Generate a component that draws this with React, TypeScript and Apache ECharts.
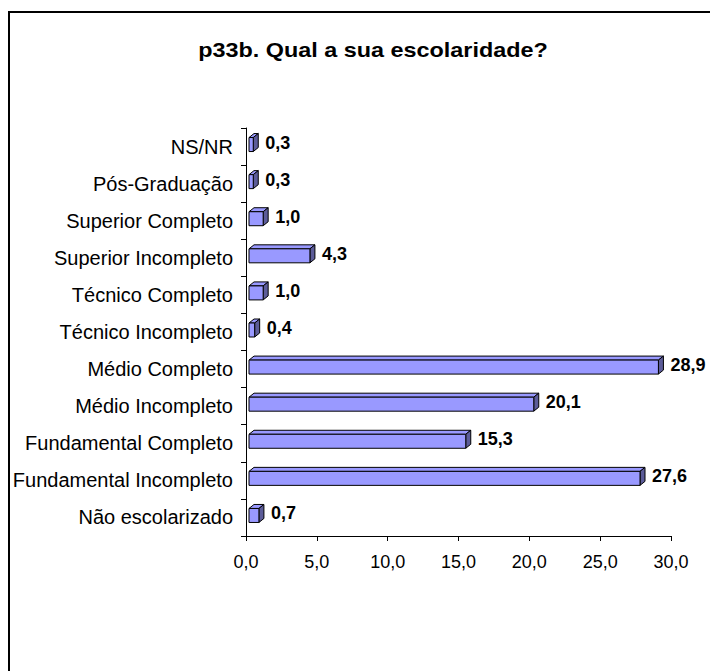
import React, { useEffect, useRef } from "react";
import * as echarts from "echarts";

const categories = [
  "Não escolarizado",
  "Fundamental Incompleto",
  "Fundamental Completo",
  "Médio Incompleto",
  "Médio Completo",
  "Técnico Incompleto",
  "Técnico Completo",
  "Superior Incompleto",
  "Superior Completo",
  "Pós-Graduação",
  "NS/NR",
];
const values = [0.7, 27.6, 15.3, 20.1, 28.9, 0.4, 1.0, 4.3, 1.0, 0.3, 0.3];
const xTicks = [0, 5, 10, 15, 20, 25, 30];
const title = "p33b. Qual a sua escolaridade?";

const fmt = (v: number) => v.toFixed(1).replace(".", ",");

export default function App() {
  const ref = useRef<HTMLDivElement>(null);
  useEffect(() => {
    if (!ref.current) return;
    const chart = echarts.init(ref.current, null, { renderer: "svg" });
    const FONT = "'Liberation Sans', Arial, sans-serif";
    const H = 14;
    const DX = 5;
    const DY = 4;
    chart.setOption({
      animation: false,
      backgroundColor: "#ffffff",
      textStyle: { fontFamily: FONT },
      graphic: [
        {
          type: "rect",
          shape: { x: 9, y: 12, width: 740, height: 700 },
          style: { fill: "none", stroke: "#000", lineWidth: 2 },
          silent: true,
          z: 100,
        },
        {
          type: "text",
          x: 373,
          y: 50,
          scaleX: 1.17,
          style: {
            text: title,
            align: "center",
            verticalAlign: "middle",
            fill: "#000",
            font: `bold 20px ${FONT}`,
          },
          silent: true,
        },
      ],
      grid: { left: 246, right: 39, top: 128, bottom: 135, containLabel: false },
      xAxis: {
        type: "value",
        min: xTicks[0],
        max: xTicks[xTicks.length - 1],
        interval: 5,
        splitLine: { show: false },
        axisLine: { show: true, lineStyle: { color: "#000", width: 1 } },
        axisTick: { show: true, length: 5, lineStyle: { color: "#000" } },
        axisLabel: {
          color: "#000",
          fontSize: 18,
          fontFamily: FONT,
          margin: 17,
          formatter: (v: number) => fmt(v),
        },
      },
      yAxis: {
        type: "category",
        data: categories,
        axisLine: { show: true, lineStyle: { color: "#000", width: 1 } },
        axisTick: { show: true, length: 5, alignWithLabel: false, lineStyle: { color: "#000" } },
        axisLabel: { color: "#000", fontSize: 20, fontFamily: FONT, margin: 13 },
      },
      series: [
        {
          type: "custom",
          data: values.map((v, i) => [v, i]),
          encode: { x: 0, y: 1 },
          renderItem: (params: any, api: any) => {
            const v = api.value(0);
            const idx = api.value(1);
            const p0 = api.coord([0, idx]);
            const p1 = api.coord([v, idx]);
            const cy = p0[1];
            const x0 = p0[0] + 3;
            const x1 = Math.max(p1[0] + 3, x0 + 3);
            const fb = cy + 5;
            const ft = fb - H;
            const stroke = { stroke: "#000", lineWidth: 1 };
            return {
              type: "group",
              children: [
                {
                  type: "polygon",
                  shape: { points: [[x0, ft], [x0 + DX, ft - DY], [x1 + DX, ft - DY], [x1, ft]] },
                  style: { fill: "#9999FF", ...stroke },
                },
                {
                  type: "polygon",
                  shape: { points: [[x1, ft], [x1 + DX, ft - DY], [x1 + DX, fb - DY], [x1, fb]] },
                  style: { fill: "#5c5c99", ...stroke },
                },
                {
                  type: "rect",
                  shape: { x: x0, y: ft, width: x1 - x0, height: H },
                  style: { fill: "#9999FF", ...stroke },
                },
                {
                  type: "text",
                  style: {
                    text: fmt(v),
                    x: x1 + DX + 7,
                    y: cy - 4,
                    verticalAlign: "middle",
                    align: "left",
                    fill: "#000",
                    font: `bold 18px ${FONT}`,
                  },
                },
              ],
            };
          },
        },
      ],
    });
    return () => chart.dispose();
  }, []);
  return (
    <div
      ref={ref}
      style={{ position: "absolute", left: 0, top: 0, width: 710, height: 671 }}
    />
  );
}
